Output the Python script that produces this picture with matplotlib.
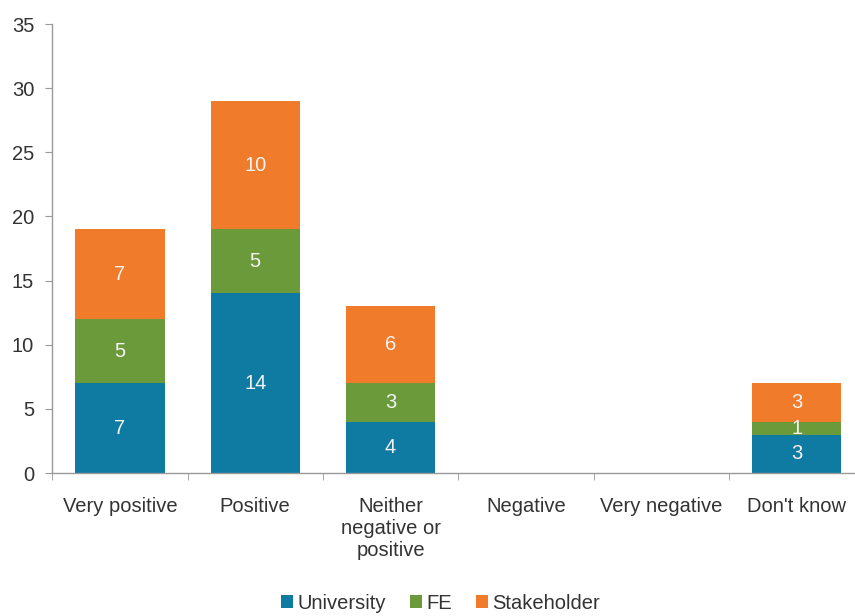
import matplotlib
matplotlib.use("Agg")
import matplotlib.pyplot as plt
import numpy as np

categories = ["Very positive", "Positive", "Neither\nnegative or\npositive",
              "Negative", "Very negative", "Don't know"]
university = [7, 14, 4, 0, 0, 3]
fe = [5, 5, 3, 0, 0, 1]
stakeholder = [7, 10, 6, 0, 0, 3]
series_names = ["University", "FE", "Stakeholder"]
colors = ["#0f7aa2", "#6a9a3a", "#f07b2a"]
y_ticks = [0, 5, 10, 15, 20, 25, 30, 35]

plt.rcParams["font.family"] = ["Liberation Sans", "DejaVu Sans"]
text_color = "#333333"
fs = 14.5

fig = plt.figure(figsize=(8.55, 6.16), dpi=100)
ax = fig.add_axes([0.061, 0.232, 0.950, 0.729])

x = np.arange(len(categories))
width = 0.66
bottom = np.zeros(len(categories))
for name, vals, col in zip(series_names, [university, fe, stakeholder], colors):
    vals = np.array(vals, dtype=float)
    ax.bar(x, vals, width, bottom=bottom, color=col, label=name, zorder=2)
    for xi, v, b in zip(x, vals, bottom):
        if v > 0:
            ax.text(xi, b + v / 2, f"{int(v)}", ha="center", va="center",
                    color="#f4f4f4", fontsize=fs)
    bottom += vals

ax.set_xlim(-0.5, len(categories) - 0.5)
ax.set_ylim(0, 35)
ax.set_yticks(y_ticks)
ax.set_yticklabels([str(t) for t in y_ticks], fontsize=fs, color=text_color)
ax.set_xticks(x)
ax.set_xticklabels(categories, fontsize=fs, color=text_color, linespacing=1.2,
                   va="top")
ax.tick_params(axis="x", length=0, pad=17)
ax.set_xticks(np.arange(len(categories) + 1) - 0.5, minor=True)
ax.tick_params(axis="x", which="minor", length=5, color="#999999", direction="out")
ax.tick_params(axis="y", length=5, color="#999999", direction="out", pad=8)

for s in ["top", "right"]:
    ax.spines[s].set_visible(False)
for s in ["left", "bottom"]:
    ax.spines[s].set_color("#999999")
    ax.spines[s].set_linewidth(1.0)

leg = fig.legend(loc="center", bbox_to_anchor=(0.515, 0.021), ncol=3, frameon=False,
                 fontsize=fs, handlelength=0.6, handleheight=0.6,
                 handletextpad=0.2, columnspacing=1.2, borderpad=0.1)
for t in leg.get_texts():
    t.set_color(text_color)

fig.savefig("out.png", dpi=100)
